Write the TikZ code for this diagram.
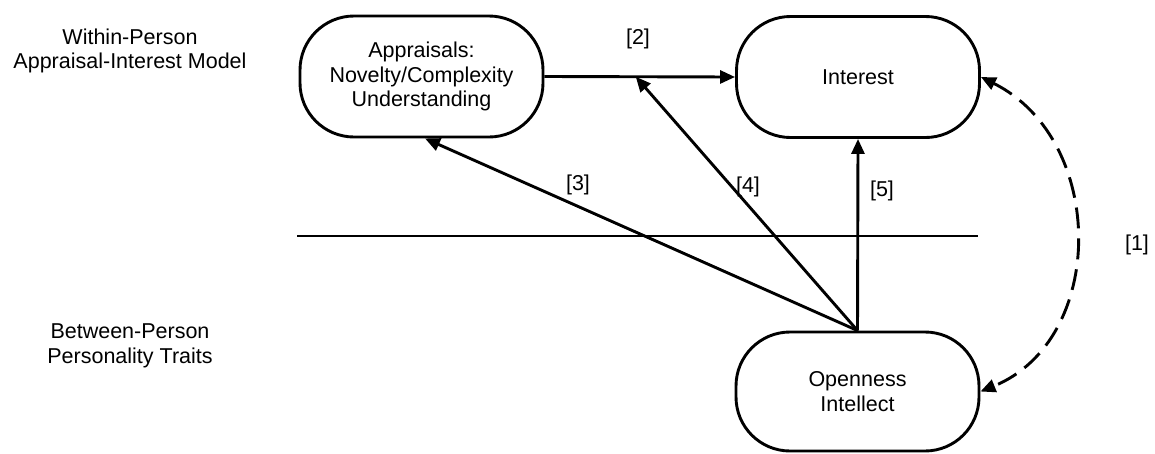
\documentclass[tikz,border=0pt]{standalone}
\usepackage{fontspec}
\setmainfont{Liberation Sans}
\usetikzlibrary{arrows.meta}
\begin{document}
\begin{tikzpicture}[x=1pt,y=-1pt,
  every node/.style={font=\fontsize{21.5}{24.5}\selectfont},
  stadium/.style={draw, line width=2.9pt, rounded corners=54pt,
    minimum width=243pt, minimum height=121pt, inner sep=0pt, align=center},
  conn/.style={line width=2.9pt, -{Triangle[length=15pt,width=13pt]}},
  lab/.style={inner sep=0pt, align=center}]
\useasboundingbox (0,0) rectangle (1155,453);

% left-hand level captions
\node[lab] (within) at (130,51) {Within-Person\\Appraisal-Interest Model};
\node[lab] (between) at (130,346) {Between-Person\\Personality Traits};

% the three constructs
\node[stadium] (app) at (421.5,76.5) {Appraisals:\\Novelty/Complexity\\Understanding};
\node[stadium] (int) at (858,77) {Interest};
\node[stadium, minimum height=119pt] (op) at (857.5,391.5) {Openness\\Intellect};

% divider between the two levels
\coordinate (divL) at (297,236);
\coordinate (divR) at (978,236);
\draw[line width=2.9pt] (divL) -- (divR);

% appraisal -> interest path and its moderation point
\draw[conn] (app.east) -- (int.west) coordinate[pos=0.479] (mid);
\draw[conn] (op.north) -- (mid);
\draw[conn] (op.north) -- ([xshift=3.5pt]app.south);
\draw[conn] (op.north) -- (int.south);

% trait-state correspondence
\draw[line width=2.9pt, dash pattern=on 21pt off 10pt,
  {Triangle[length=15pt,width=13pt]}-{Triangle[length=15pt,width=13pt]}]
  (int.east) .. controls (1107,140) and (1107,340) .. (op.east);

% path labels
\node[lab] (l1) at (1137,245) {[1]};
\node[lab] (l2) at (638,39) {[2]};
\node[lab] (l3) at (578,185) {[3]};
\node[lab] (l4) at (748,187) {[4]};
\node[lab] (l5) at (882,191) {[5]};
\end{tikzpicture}
\end{document}
